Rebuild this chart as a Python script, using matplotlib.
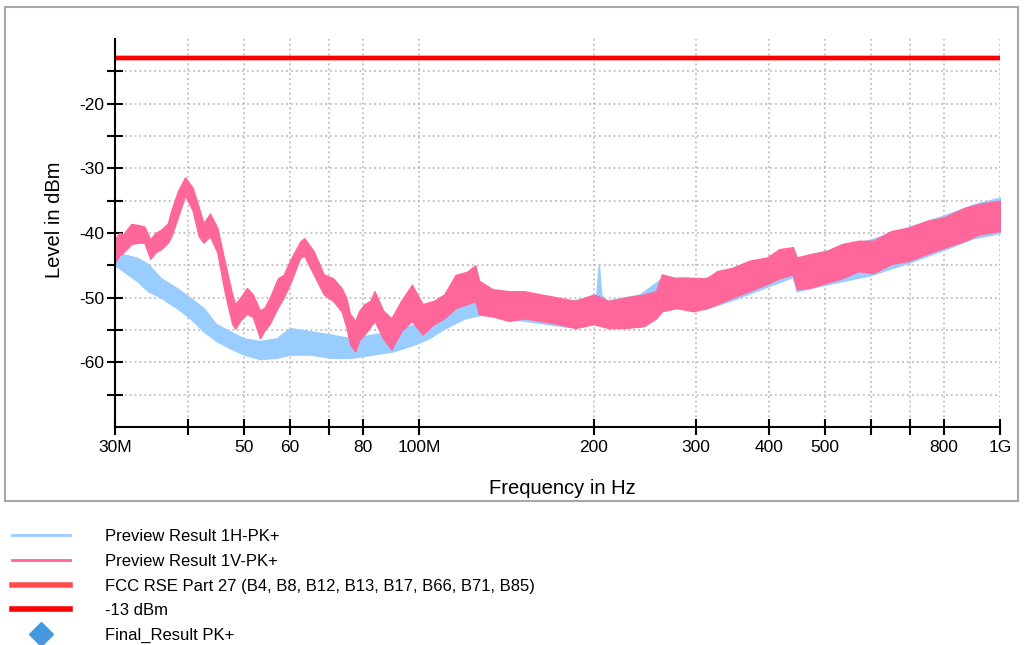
import matplotlib
matplotlib.use("Agg")
import matplotlib.pyplot as plt
from matplotlib.lines import Line2D
from matplotlib.patches import Rectangle
from matplotlib.ticker import FixedLocator, NullLocator
import numpy as np

plt.rcParams['font.family'] = ['Liberation Sans', 'DejaVu Sans']
plt.rcParams['axes.unicode_minus'] = False

# ---------------- data (MHz, dBm) ----------------
freq_v = [30, 30.5, 31, 32, 33, 33.7, 34.5, 35.2, 36, 37, 37.5, 38.5, 39.6, 40.8, 41.8,
          42.6, 43.7, 45, 46.3, 47.7, 48.3, 49.3, 50.6, 51.8, 53.3, 54.3, 55.4, 57.2,
          58.5, 60, 62.5, 63.5, 65.9, 68.6, 71.2, 73.6, 75, 76.1, 77.7, 79, 80.6, 82.5,
          83.9, 86.8, 89.7, 93.2, 97.3, 101.5, 106, 110.6, 115.6, 121, 125, 127, 134,
          143, 152, 162, 174, 186, 200, 212, 226, 244, 256, 262, 277, 297, 313, 326,
          346, 370, 397, 417, 440, 447, 470, 502, 535, 570, 605, 650, 695, 750, 800,
          870, 920, 1000]
v_upper = [-41.0, -40.0, -40.2, -38.6, -38.8, -39.0, -41.0, -40.0, -39.5, -38.5, -36.5,
           -33.5, -31.4, -33.0, -36.0, -38.5, -37.0, -39.2, -44.3, -49.4, -51.0, -50.0,
           -48.5, -49.5, -52.0, -51.5, -50.0, -47.0, -46.5, -44.3, -41.3, -40.8, -42.8,
           -46.4, -47.0, -48.5, -50.0, -52.5, -53.6, -52.0, -51.0, -50.5, -49.0, -52.0,
           -53.2, -50.5, -48.0, -51.0, -50.5, -49.5, -46.5, -46.0, -45.0, -47.4, -48.7,
           -49.0, -49.0, -49.5, -50.0, -50.5, -49.5, -50.5, -50.0, -49.5, -49.0, -46.4,
           -47.0, -47.0, -47.0, -45.9, -45.4, -44.3, -43.8, -42.5, -42.2, -43.8, -43.3,
           -42.8, -41.7, -41.2, -41.2, -39.7, -39.2, -38.1, -37.6, -36.1, -35.5, -35.0]
v_lower = [-44.5, -43.5, -43.0, -41.7, -41.5, -41.5, -44.0, -43.0, -42.5, -41.5, -40.5,
           -37.5, -34.2, -36.5, -40.5, -41.5, -40.5, -43.0, -49.0, -54.0, -54.8, -53.5,
           -52.5, -53.0, -56.3, -55.0, -54.0, -51.5, -50.0, -47.9, -43.8, -43.5, -46.4,
           -49.5, -50.5, -52.1, -54.5, -57.2, -58.3, -56.5, -55.7, -54.5, -53.6, -56.3,
           -58.0, -55.2, -53.6, -55.7, -54.1, -53.2, -51.6, -51.0, -50.5, -52.6, -52.9,
           -53.6, -53.2, -53.6, -54.1, -54.7, -54.1, -54.7, -54.7, -54.4, -53.2, -52.1,
           -51.6, -52.1, -51.6, -51.0, -50.0, -49.0, -47.9, -47.0, -46.4, -48.7, -48.5,
           -47.7, -47.0, -45.9, -46.2, -44.8, -44.3, -43.2, -42.3, -41.2, -40.2, -39.7]

freq_h = [30, 31, 32.7, 34.2, 36, 38.3, 40.4, 42.6, 44.8, 47.3, 50, 53.3, 56.9, 60, 65,
          70.6, 76.5, 83.3, 90.4, 98.5, 104, 111, 120, 130, 150, 180, 198, 202, 204, 206,
          210, 240, 262, 285, 310, 350, 400, 440, 447, 500, 600, 700, 800, 900, 1000]
h_upper = [-43.0, -43.3, -43.8, -44.8, -47.0, -48.5, -50.0, -51.6, -54.1, -55.2, -56.3,
           -56.7, -56.3, -54.7, -55.2, -55.7, -56.3, -55.7, -55.2, -54.1, -53.2, -51.6,
           -50.5, -48.5, -49.5, -50.5, -50.0, -49.5, -44.8, -49.5, -50.5, -49.5, -47.0,
           -46.8, -47.0, -45.4, -43.8, -42.2, -43.8, -42.8, -41.0, -39.0, -37.3, -35.6,
           -34.5]
h_lower = [-45.0, -45.9, -47.4, -49.0, -50.0, -51.6, -53.2, -55.2, -56.7, -57.8, -58.8,
           -59.5, -59.3, -58.8, -58.8, -59.3, -59.3, -58.8, -58.3, -57.2, -56.3, -54.7,
           -53.2, -52.5, -53.5, -54.5, -54.0, -53.5, -53.0, -53.5, -54.5, -54.5, -52.0,
           -51.5, -51.8, -50.2, -48.2, -46.8, -49.0, -48.0, -46.5, -44.5, -42.6, -40.8,
           -40.0]

limit_level = -13
x_ticks_mhz = [30, 40, 50, 60, 70, 80, 100, 200, 300, 400, 500, 600, 700, 800, 1000]
x_tick_labels = ['30M', '', '50', '60', '', '80', '100M', '200', '300', '400', '500',
                 '', '', '800', '1G']
y_major = [-60, -50, -40, -30, -20]
y_minor = [-65, -55, -45, -35, -25, -15]

legend_labels = ['Preview Result 1H-PK+', 'Preview Result 1V-PK+',
                 'FCC RSE Part 27 (B4, B8, B12, B13, B17, B66, B71, B85)',
                 '-13 dBm', 'Final_Result PK+']

c_h = '#99CCFF'
c_v = '#FF6699'
c_fcc = '#FF4D4D'
c_lim = '#FF0000'
c_final = '#4499DD'

# ---------------- figure ----------------
W, H = 1024, 645
fig = plt.figure(figsize=(W / 100, H / 100), dpi=100)
fig.patch.set_facecolor('white')

# outer frame
fig.add_artist(Rectangle((5 / W, 1 - 501 / H), (1018 - 5) / W, (501 - 7) / H,
                         transform=fig.transFigure, fill=False, edgecolor='#A8A8A8',
                         linewidth=1.5))

ax = fig.add_axes([115 / W, 1 - 427 / H, (1000 - 115) / W, (427 - 39) / H])
ax.set_xscale('log')
ax.set_xlim(30e6, 1e9)
ax.set_ylim(-70, -10)

fh = np.array(freq_h) * 1e6
fv = np.array(freq_v) * 1e6
ax.fill_between(fh, h_lower, h_upper, color=c_h, linewidth=1.0, edgecolor=c_h, zorder=3)
ax.fill_between(fv, v_lower, v_upper, color=c_v, linewidth=1.0, edgecolor=c_v, zorder=4)
ax.plot([30e6, 1e9], [limit_level, limit_level], color=c_fcc, lw=3.2, zorder=5,
        solid_capstyle='butt')
ax.plot([30e6, 1e9], [limit_level, limit_level], color=c_lim, lw=3.2, zorder=6,
        solid_capstyle='butt')

ax.xaxis.set_major_locator(FixedLocator(np.array(x_ticks_mhz) * 1e6))
ax.xaxis.set_minor_locator(NullLocator())
ax.set_xticklabels(x_tick_labels)
ax.yaxis.set_major_locator(FixedLocator(y_major))
ax.yaxis.set_minor_locator(FixedLocator(y_minor))

ax.tick_params(axis='both', which='both', direction='inout', length=11, width=1.5,
               color='black', labelsize=12.5)
ax.tick_params(axis='x', pad=4)
ax.tick_params(axis='y', pad=2)

for s in ['top', 'right']:
    ax.spines[s].set_visible(False)
for s in ['left', 'bottom']:
    ax.spines[s].set_linewidth(1.5)
    ax.spines[s].set_zorder(7)

ax.grid(True, which='both', axis='both', color='#B4B4B4', linestyle=(0, (1.2, 2.0)),
        linewidth=1.1, zorder=1)
ax.set_axisbelow(True)

ax.set_ylabel('Level in dBm', fontsize=14.5)
ax.set_xlabel('Frequency in Hz', fontsize=14.5)
ax.yaxis.set_label_coords((55 - 115) / 885, 1 - (220 - 39) / 388)
ax.xaxis.set_label_coords((562 - 115) / 885, -(488 - 427) / 388)
ax.xaxis.label.set_verticalalignment('center')
ax.yaxis.label.set_verticalalignment('center')

# legend
handles = [Line2D([], [], color=c_h, lw=2),
           Line2D([], [], color=c_v, lw=2),
           Line2D([], [], color=c_fcc, lw=4),
           Line2D([], [], color=c_lim, lw=4),
           Line2D([], [], color=c_final, lw=0, marker='D', markersize=12)]
fig.legend(handles, legend_labels, loc='upper left',
           bbox_to_anchor=(4 / W, 1 - 521 / H), frameon=False, fontsize=12,
           handlelength=3.45, handletextpad=2.1, labelspacing=0.58, borderpad=0.0)

fig.savefig('out.png', dpi=100, facecolor='white')
